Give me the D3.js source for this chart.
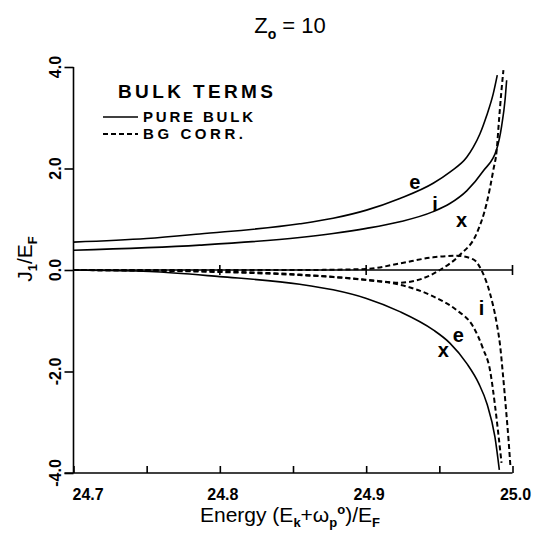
<!DOCTYPE html>
<html><head><meta charset="utf-8">
<script src="https://cdn.jsdelivr.net/npm/d3@7"></script>
<style>
html,body{margin:0;padding:0;background:#fff;}
svg text{font-family:"Liberation Sans",Arial,sans-serif;fill:#000;}
</style></head>
<body><svg id="c" width="536" height="533"></svg>
<script>
// ---- data ----
const xTicks = [24.7, 24.8, 24.9, 25.0];
const xMinorTicks = [24.75, 24.85, 24.95];
const yTicks = [-4, -2, 0, 2, 4];
const xTickLabels = ["24.7", "24.8", "24.9", "25.0"];
const yTickLabels = ["-4.0", "-2.0", "0.0", "2.0", "4.0"];
const zeroLineTicks = [24.8, 24.9, 25.0];

// PURE BULK (solid)
const solidE_x = [24.70, 24.75, 24.7862, 24.8546, 24.8774, 24.9002, 24.9230, 24.9458, 24.9572, 24.9687, 24.9732, 24.9777, 24.9823, 24.9869, 24.9896];
const solidE_y = [0.55, 0.62, 0.71, 0.91, 1.02, 1.18, 1.41, 1.71, 1.93, 2.22, 2.42, 2.68, 3.04, 3.48, 3.84];

const solidI_x = [24.70, 24.7862, 24.8546, 24.8774, 24.9002, 24.9230, 24.9458, 24.9572, 24.9687, 24.9800, 24.9892, 24.9926, 24.9949, 24.9960];
const solidI_y = [0.39, 0.49, 0.64, 0.72, 0.82, 0.95, 1.15, 1.31, 1.56, 1.95, 2.38, 2.84, 3.35, 3.74];

const solidX_x = [24.70, 24.752, 24.7999, 24.8546, 24.8774, 24.9002, 24.9230, 24.9458, 24.9572, 24.9687, 24.9770, 24.9826, 24.9880, 24.9910];
const solidX_y = [0, -0.03, -0.13, -0.28, -0.39, -0.56, -0.82, -1.18, -1.44, -1.84, -2.24, -2.64, -3.29, -3.94];

// BG CORR. (dashed)
const dashX_x = [24.70, 24.80, 24.8546, 24.9002, 24.9230, 24.9504, 24.9641, 24.9755, 24.9823, 24.9869, 24.9892, 24.9908, 24.9925, 24.9938];
const dashX_y = [0, -0.03, -0.09, -0.19, -0.25, 0, 0.30, 0.72, 1.31, 1.97, 2.36, 2.96, 3.55, 3.94];

const dashI_x = [24.70, 24.8546, 24.9002, 24.9230, 24.9458, 24.9618, 24.9732, 24.9789, 24.9846, 24.9892, 24.9915, 24.9935, 24.9956, 24.9973, 24.9986];
const dashI_y = [0, 0.0, 0.02, 0.13, 0.25, 0.28, 0.21, -0.01, -0.46, -1.05, -1.48, -2.07, -2.76, -3.35, -3.88];

const dashE_x = [24.70, 24.80, 24.8546, 24.8774, 24.9002, 24.9230, 24.9458, 24.9618, 24.9732, 24.9800, 24.9846, 24.9880, 24.9904, 24.9925];
const dashE_y = [0, -0.04, -0.10, -0.14, -0.20, -0.29, -0.52, -0.79, -1.12, -1.56, -1.97, -2.66, -3.25, -3.80];

const labelText = ["e", "i", "x", "i", "e", "x"];
const labelE = [24.9333, 24.9470, 24.9652, 24.9789, 24.9629, 24.9527];
const labelV = [1.74, 1.30, 0.985, -0.75, -1.28, -1.58];

// ---- layout ----
const svg = d3.select("#c");
const x = d3.scaleLinear().domain([24.7, 25.0]).range([73.5, 512.5]);
const y = d3.scaleLinear().domain([-4, 4]).range([473, 67]);

const line = d3.line().x(d => x(d[0])).y(d => y(d[1])).curve(d3.curveMonotoneX);
const zip = (a, b) => a.map((v, i) => [v, b[i]]);

// bottom axis
const xAxis = d3.axisBottom(x).tickValues(xTicks.concat(xMinorTicks)).tickSize(-7).tickFormat("");
const gx = svg.append("g").attr("transform", `translate(0,${y(-4)})`).call(xAxis);
gx.select(".domain").attr("d", `M${x(24.7) - 9},0H${x(25.0)}`);
gx.selectAll("path,line").attr("stroke", "#000").attr("stroke-width", 1.6);
svg.selectAll(".xlab").data(xTickLabels).enter().append("text")
  .attr("x", (d, i) => i === 0 ? x(xTicks[i]) - 1 : x(xTicks[i]) + 3)
  .attr("y", 500).attr("text-anchor", (d, i) => i === 0 ? "start" : "middle")
  .attr("font-size", 16).attr("font-weight", "bold").text(d => d);

// left axis
const yAxis = d3.axisLeft(y).tickValues(yTicks).tickSize(9).tickFormat("");
const gy = svg.append("g").attr("transform", `translate(${x(24.7)},0)`).call(yAxis);
gy.select(".domain").attr("d", `M0,${y(4)}V${y(-4)}`);
gy.selectAll("path,line").attr("stroke", "#000").attr("stroke-width", 1.6);
svg.selectAll(".ylab").data(yTickLabels).enter().append("text")
  .attr("transform", (d, i) => `translate(61,${y(yTicks[i])}) rotate(-90)`)
  .attr("text-anchor", "middle").attr("font-size", 16).attr("font-weight", "bold").text(d => d);

// zero line with ticks
svg.append("line").attr("x1", x(24.7)).attr("x2", x(25.0)).attr("y1", y(0)).attr("y2", y(0))
  .attr("stroke", "#000").attr("stroke-width", 1.6);
svg.selectAll(".zt").data(zeroLineTicks).enter().append("line")
  .attr("x1", d => x(d)).attr("x2", d => x(d)).attr("y1", y(0) - 5).attr("y2", y(0) + 5)
  .attr("stroke", "#000").attr("stroke-width", 1.6);

// curves
const solids = [[solidE_x, solidE_y], [solidI_x, solidI_y], [solidX_x, solidX_y]];
const dashes = [[dashX_x, dashX_y], [dashI_x, dashI_y], [dashE_x, dashE_y]];
solids.forEach(s => svg.append("path").attr("d", line(zip(s[0], s[1])))
  .attr("fill", "none").attr("stroke", "#000").attr("stroke-width", 1.6));
dashes.forEach(s => svg.append("path").attr("d", line(zip(s[0], s[1])))
  .attr("fill", "none").attr("stroke", "#000").attr("stroke-width", 2).attr("stroke-dasharray", "5,3"));

// curve labels
svg.selectAll(".cl").data(labelText).enter().append("text")
  .attr("x", (d, i) => x(labelE[i])).attr("y", (d, i) => y(labelV[i])).attr("text-anchor", "middle")
  .attr("dominant-baseline", "central").attr("font-size", 20).attr("font-weight", "bold").text(d => d);

// title
const title = svg.append("text").attr("x", 290).attr("y", 33).attr("text-anchor", "middle").attr("font-size", 22);
title.append("tspan").text("Z");
title.append("tspan").attr("dy", 6).attr("font-size", 14).attr("font-weight", "bold").text("o");
title.append("tspan").attr("dy", -6).text(" = 10");

// legend
svg.append("text").attr("x", 118).attr("y", 98).attr("font-size", 19).attr("font-weight", "bold")
  .attr("textLength", 155).attr("lengthAdjust", "spacing").text("BULK  TERMS");
svg.append("line").attr("x1", 103).attr("x2", 138).attr("y1", 117).attr("y2", 117)
  .attr("stroke", "#000").attr("stroke-width", 1.6);
svg.append("text").attr("x", 143).attr("y", 122).attr("font-size", 15).attr("font-weight", "bold")
  .attr("textLength", 110).attr("lengthAdjust", "spacing").text("PURE BULK");
svg.append("line").attr("x1", 103).attr("x2", 138).attr("y1", 134).attr("y2", 134)
  .attr("stroke", "#000").attr("stroke-width", 2).attr("stroke-dasharray", "5,3");
svg.append("text").attr("x", 143).attr("y", 139).attr("font-size", 15).attr("font-weight", "bold")
  .attr("textLength", 100).attr("lengthAdjust", "spacing").text("BG CORR.");

// axis titles
const xl = svg.append("text").attr("x", 290).attr("y", 522).attr("text-anchor", "middle").attr("font-size", 21);
xl.append("tspan").text("Energy (E");
xl.append("tspan").attr("dy", 5).attr("font-size", 13).attr("font-weight", "bold").text("k");
xl.append("tspan").attr("dy", -5).text("+ω");
xl.append("tspan").attr("dy", 5).attr("font-size", 13).attr("font-weight", "bold").text("p");
xl.append("tspan").attr("dy", -13).attr("font-size", 13).attr("font-weight", "bold").text("o");
xl.append("tspan").attr("dy", 8).text(")/E");
xl.append("tspan").attr("dy", 5).attr("font-size", 13).attr("font-weight", "bold").text("F");

const yl = svg.append("text").attr("transform", "translate(32,259) rotate(-90)").attr("text-anchor", "middle").attr("font-size", 21);
yl.append("tspan").text("J");
yl.append("tspan").attr("dy", 5).attr("font-size", 13).attr("font-weight", "bold").text("1");
yl.append("tspan").attr("dy", -5).text("/E");
yl.append("tspan").attr("dy", 5).attr("font-size", 13).attr("font-weight", "bold").text("F");
</script></body></html>
